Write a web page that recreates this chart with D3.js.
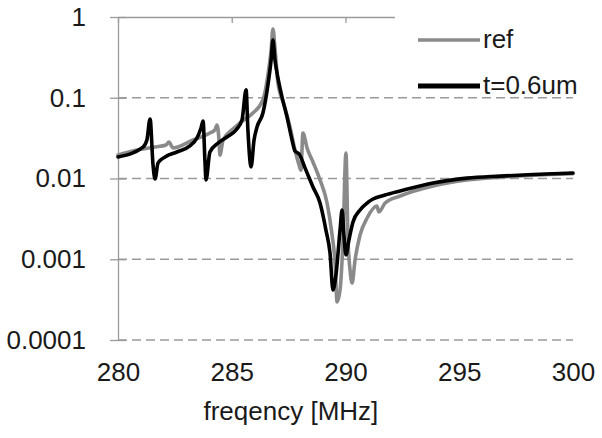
<!DOCTYPE html>
<html>
<head>
<meta charset="utf-8">
<script src="https://cdn.jsdelivr.net/npm/d3@7"></script>
<style>
  html, body { margin: 0; padding: 0; background: #fff; }
  #chart { width: 602px; height: 438px; }
  text { font-family: 'Liberation Sans', Arial, sans-serif; fill: #1a1a1a; }
</style>
</head>
<body>
<div id="chart"></div>
<script>
'use strict';

const MARGIN = { top: 17, right: 29, bottom: 98, left: 118 };

const xTicks = [280, 285, 290, 295, 300];
const yTicks = [1, 0.1, 0.01, 0.001, 0.0001];
const yTickLabels = ['1', '0.1', '0.01', '0.001', '0.0001'];

// ref (grey)
const refFreq = [280.00, 280.84, 281.63, 282.11, 282.24, 282.42, 283.30, 284.04, 284.26, 284.35,
  284.44, 284.48, 284.62, 285.01, 285.36, 285.93, 286.37, 286.59, 286.73, 286.81,
  286.90, 287.03, 287.30, 287.56, 287.78, 287.96, 288.04, 288.13, 288.31, 288.57,
  288.88, 289.19, 289.41, 289.54, 289.63, 289.76, 289.89, 290.02, 290.11, 290.20,
  290.29, 290.42, 290.64, 290.95, 291.38, 291.47, 291.74, 292.40, 293.85, 295.34,
  296.79, 298.24, 300.00];
const refVal = [0.0195, 0.0225, 0.0245, 0.026, 0.0283, 0.0239, 0.030, 0.0366, 0.040, 0.046,
  0.030, 0.0195, 0.030, 0.040, 0.0487, 0.0648, 0.0938, 0.191, 0.39, 0.71,
  0.413, 0.152, 0.0813, 0.0434, 0.0225, 0.0147, 0.0127, 0.0366, 0.0239, 0.016,
  0.0096, 0.00497, 0.002, 0.000924, 0.000296, 0.000416, 0.00173, 0.0207, 0.00173, 0.000736,
  0.000508, 0.00098, 0.002, 0.00324, 0.00456, 0.00385, 0.00497, 0.00607, 0.00807, 0.0096,
  0.0104, 0.011, 0.0115];

// t=0.6um (black)
const tFreq = [280.00, 281.10, 281.27, 281.41, 281.54, 281.63, 281.76, 282.07, 282.59, 283.16,
  283.47, 283.65, 283.74, 283.82, 283.87, 284.04, 284.40, 284.79, 285.19, 285.45,
  285.63, 285.71, 285.85, 285.98, 286.11, 286.37, 286.59, 286.73, 286.81, 286.90,
  287.03, 287.21, 287.43, 287.65, 287.78, 287.96, 288.26, 288.57, 288.88, 289.14,
  289.32, 289.45, 289.58, 289.76, 289.85, 289.93, 290.02, 290.15, 290.33, 290.64,
  290.95, 291.21, 291.74, 292.40, 293.85, 295.34, 296.79, 298.24, 300.00];
const tVal = [0.0185, 0.0245, 0.030, 0.0546, 0.0147, 0.00986, 0.0156, 0.0185, 0.0213, 0.0253,
  0.0317, 0.0422, 0.0515, 0.0169, 0.0096, 0.0213, 0.0275, 0.0327, 0.0399, 0.0530,
  0.125, 0.040, 0.0139, 0.030, 0.0434, 0.0648, 0.144, 0.293, 0.519, 0.293,
  0.176, 0.102, 0.0578, 0.030, 0.0219, 0.0201, 0.0127, 0.00785, 0.00497, 0.0023,
  0.00119, 0.000416, 0.000638, 0.0023, 0.00407, 0.002, 0.00113, 0.00173, 0.00289, 0.00407,
  0.00497, 0.00557, 0.00625, 0.0070, 0.0088, 0.0101, 0.0107, 0.0112, 0.0117];

const series = [
  { name: 'ref', freq: refFreq, val: refVal, color: '#8a8a8a', width: 3.6, legendWidth: 3.6 },
  { name: 't=0.6um', freq: tFreq, val: tVal, color: '#000000', width: 3.6, legendWidth: 5 },
];

function drawChart() {
  const container = document.getElementById('chart');
  const W = 602, H = 438;
  const w = W - MARGIN.left - MARGIN.right;
  const h = H - MARGIN.top - MARGIN.bottom;

  const svg = d3.select(container).append('svg')
    .attr('width', W).attr('height', H);

  const g = svg.append('g')
    .attr('transform', `translate(${MARGIN.left},${MARGIN.top})`);

  const x = d3.scaleLinear().domain([280, 300]).range([0, w]);
  const y = d3.scaleLog().domain([0.0001, 1]).range([h, 0]);

  const axisColor = '#9a9a9a';

  // dashed grid lines
  g.append('g')
    .selectAll('line')
    .data(yTicks.filter(v => v < 1))
    .join('line')
    .attr('x1', 0).attr('x2', w)
    .attr('y1', d => y(d)).attr('y2', d => y(d))
    .attr('stroke', axisColor)
    .attr('stroke-width', 1.3)
    .attr('stroke-dasharray', '9,5');

  // top axis line with ticks pointing down
  g.append('g')
    .call(d3.axisBottom(x).tickValues(xTicks).tickFormat('').tickSize(6).tickSizeOuter(0))
    .call(a => a.selectAll('path, line').attr('stroke', axisColor).attr('stroke-width', 1.3));

  // bottom labels
  g.append('g')
    .attr('transform', `translate(0,${h})`)
    .call(d3.axisBottom(x).tickValues(xTicks).tickSize(0).tickPadding(23).tickFormat(d3.format('d')))
    .call(a => a.select('.domain').remove())
    .call(a => a.selectAll('text')
      .attr('font-size', '26px')
      .attr('fill', '#1a1a1a')
      .attr('font-family', "'Liberation Sans', Arial, sans-serif"));

  // left axis
  g.append('g')
    .call(d3.axisLeft(y).tickValues(yTicks).tickSize(8).tickSizeOuter(0).tickPadding(24)
      .tickFormat((d, i) => yTickLabels[i]))
    .call(a => a.selectAll('path, line').attr('stroke', axisColor).attr('stroke-width', 1.3))
    .call(a => a.selectAll('.tick line').attr('x2', -8).attr('x1', 8))
    .call(a => a.selectAll('text')
      .attr('font-size', '26px')
      .attr('fill', '#1a1a1a')
      .attr('font-family', "'Liberation Sans', Arial, sans-serif"));

  // axis title
  g.append('text')
    .attr('x', x(287.6)).attr('y', h + 80)
    .attr('text-anchor', 'middle')
    .attr('font-size', '26px')
    .text('freqency [MHz]');

  // series lines
  const lineGen = d3.line()
    .x(d => x(d[0]))
    .y(d => y(d[1]))
    .curve(d3.curveMonotoneX);

  series.forEach(s => {
    g.append('path')
      .datum(d3.zip(s.freq, s.val))
      .attr('fill', 'none')
      .attr('stroke', s.color)
      .attr('stroke-width', s.width)
      .attr('stroke-linejoin', 'round')
      .attr('stroke-linecap', 'round')
      .attr('d', lineGen);
  });

  // legend (white box hides the top axis under it)
  const legend = svg.append('g').attr('transform', 'translate(395,0)');
  legend.append('rect')
    .attr('x', 0).attr('y', 0).attr('width', 207).attr('height', 94)
    .attr('fill', '#fff');

  series.forEach((s, i) => {
    const row = legend.append('g').attr('transform', `translate(23,${40 + i * 46})`);
    row.append('line')
      .attr('x1', 0).attr('x2', 62)
      .attr('stroke', s.color)
      .attr('stroke-width', s.legendWidth);
    row.append('text')
      .attr('x', 65).attr('y', 8)
      .attr('font-size', '26px')
      .text(s.name);
  });
}

drawChart();
</script>
</body>
</html>
